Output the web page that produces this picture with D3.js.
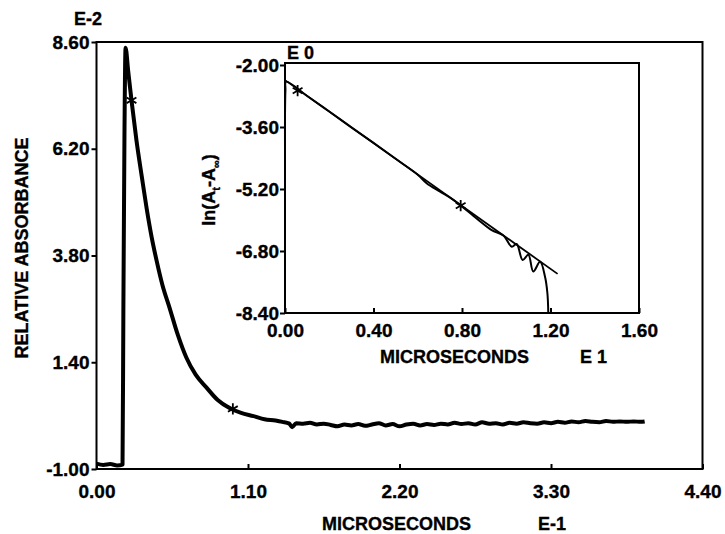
<!DOCTYPE html>
<html>
<head>
<meta charset="utf-8">
<script src="https://cdnjs.cloudflare.com/ajax/libs/d3/7.8.5/d3.min.js"></script>
<style>
  body { margin: 0; background: #fff; }
  svg text { font-family: "Liberation Sans", Arial, sans-serif; font-weight: bold; fill: #000; stroke: #000; stroke-width: 0.35px; }
  .domain { display: none; }
</style>
</head>
<body>
<div id="chart"></div>
<script>
// Main trace: relative absorbance (E-2) vs time (E-1 microseconds)
var mainTime = [0.00, 0.05, 0.10, 0.15, 0.189, 0.195, 0.203, 0.211, 0.23, 0.254, 0.29, 0.33, 0.363, 0.40, 0.436,
  0.48, 0.53, 0.59, 0.653, 0.72, 0.799, 0.88, 0.966, 1.05, 1.14, 1.22, 1.30, 1.35, 1.40, 1.42, 1.45,
  1.50, 1.55, 1.60, 1.65, 1.70, 1.75, 1.80, 1.85, 1.90, 1.95, 2.00, 2.05, 2.10, 2.15, 2.20, 2.25,
  2.30, 2.35, 2.40, 2.45, 2.50, 2.55, 2.60, 2.65, 2.70, 2.75, 2.80, 2.85, 2.90, 2.95, 3.00, 3.05,
  3.10, 3.15, 3.20, 3.25, 3.30, 3.35, 3.40, 3.45, 3.50, 3.55, 3.60, 3.65, 3.70, 3.75, 3.80, 3.85,
  3.90, 3.95, 3.98];
var mainAbs = [-0.88, -0.91, -0.89, -0.92, -0.90, 2.5, 6.5, 8.47, 7.95, 7.29, 6.39, 5.55, 4.88, 4.22, 3.69,
  3.12, 2.63, 2.02, 1.50, 1.12, 0.83, 0.55, 0.37, 0.26, 0.19, 0.12, 0.09, 0.06, 0.02, -0.06, 0.03,
  0.02, 0.04, 0.00, 0.02, -0.01, -0.04, 0.00, -0.02, 0.01, -0.03, 0.00, 0.03, -0.02, 0.01, -0.04, 0.00,
  0.02, -0.02, 0.01, -0.01, 0.02, 0.00, 0.04, 0.01, 0.03, 0.00, 0.05, 0.02, 0.03, 0.00, 0.04, 0.02,
  0.05, 0.03, 0.02, 0.05, 0.03, 0.06, 0.04, 0.07, 0.05, 0.08, 0.06, 0.05, 0.08, 0.06, 0.07, 0.06,
  0.07, 0.06, 0.07];
var mainStarTime = [0.254, 0.99];
var mainStarAbs = [7.29, 0.35];
var mainXTicks = [0.00, 1.10, 2.20, 3.30, 4.40];
var mainYTicks = [-1.00, 1.40, 3.80, 6.20, 8.60];

// Inset: ln(At - Ainf) vs time (E 1)
var insetTime = [0.000, 0.000, 0.002, 0.005, 0.10, 0.20, 0.30, 0.40, 0.50, 0.60, 0.640, 0.701, 0.761,
  0.866, 0.934, 0.987, 1.025, 1.047, 1.074, 1.100, 1.122, 1.153, 1.175, 1.186, 1.190];
var insetLn = [-4.11, -3.33, -2.65, -2.43, -2.80, -3.20, -3.61, -4.01, -4.42, -4.83, -5.05, -5.27, -5.48,
  -5.96, -6.26, -6.40, -6.69, -6.62, -7.03, -6.90, -7.33, -7.08, -7.46, -7.89, -8.40];
var fitTime = [0.00, 1.232];
var fitLn = [-2.39, -7.39];
var insetStarTime = [0.057, 0.794];
var insetStarLn = [-2.66, -5.63];
var insetXTicks = [0.00, 0.40, 0.80, 1.20, 1.60];
var insetYTicks = [-8.40, -6.80, -5.20, -3.60, -2.00];

var svgWidth = 725;
var svgHeight = 534;

// hyphen instead of unicode minus, as on the original plot
var fmt = d => d.toFixed(2);

var svg = d3.select("#chart")
  .append("svg")
  .attr("width", svgWidth)
  .attr("height", svgHeight);

// ---------- main plot ----------
var x = d3.scaleLinear().domain([0, 4.40]).range([96.5, 702.5]);
var y = d3.scaleLinear().domain([-1.00, 8.60]).range([469, 42]);

svg.append("rect")
  .attr("x", x(0)).attr("y", y(8.60))
  .attr("width", x(4.40) - x(0)).attr("height", y(-1) - y(8.60))
  .attr("fill", "none").attr("stroke", "#000").attr("stroke-width", 2);

var xAxis = svg.append("g")
  .attr("transform", `translate(0, ${y(-1)})`)
  .call(d3.axisBottom(x).tickValues(mainXTicks).tickFormat(fmt).tickSize(-5).tickPadding(16));

var yAxis = svg.append("g")
  .attr("transform", `translate(${x(0)}, 0)`)
  .call(d3.axisLeft(y).tickValues(mainYTicks).tickFormat(fmt).tickSize(5).tickPadding(2));

var mainLine = d3.line()
  .curve(d3.curveMonotoneX)
  .x((d, i) => x(mainTime[i]))
  .y((d, i) => y(mainAbs[i]));

svg.append("path")
  .datum(mainAbs)
  .attr("d", mainLine)
  .attr("fill", "none")
  .attr("stroke", "#000")
  .attr("stroke-width", 4)
  .attr("stroke-linejoin", "round");

var star = d3.symbol().type(d3.symbolAsterisk).size(90);

svg.selectAll(".mstar")
  .data(mainStarTime)
  .enter()
  .append("path")
  .attr("d", star)
  .attr("transform", (d, i) => `translate(${x(d)}, ${y(mainStarAbs[i])})`)
  .attr("fill", "none").attr("stroke", "#000").attr("stroke-width", 1.8);

svg.append("text").attr("x", 88).attr("y", 25).attr("text-anchor", "middle")
  .style("font-size", "18px").text("E-2");

svg.append("text")
  .attr("transform", "translate(28, 248) rotate(-90)")
  .attr("text-anchor", "middle")
  .style("font-size", "18px")
  .text("RELATIVE ABSORBANCE");

svg.append("text").attr("x", 322).attr("y", 530).style("font-size", "18px").text("MICROSECONDS");
svg.append("text").attr("x", 538).attr("y", 530).style("font-size", "18px").text("E-1");

// ---------- inset ----------
var ix = d3.scaleLinear().domain([0, 1.60]).range([285, 639]);
var iy = d3.scaleLinear().domain([-8.40, -2.00]).range([313, 65]);

var inset = svg.append("g");

inset.append("rect")
  .attr("x", ix(0)).attr("y", 63)
  .attr("width", ix(1.6) - ix(0)).attr("height", iy(-8.4) - 63)
  .attr("fill", "#fff").attr("stroke", "#000").attr("stroke-width", 2);

inset.append("g")
  .attr("transform", `translate(0, ${iy(-8.4)})`)
  .call(d3.axisBottom(ix).tickValues(insetXTicks).tickFormat(fmt).tickSize(-5).tickPadding(11));

inset.append("g")
  .attr("transform", `translate(${ix(0)}, 0)`)
  .call(d3.axisLeft(iy).tickValues(insetYTicks).tickFormat(fmt).tickSize(5).tickPadding(1));

var fitLine = d3.line()
  .x((d, i) => ix(fitTime[i]))
  .y((d, i) => iy(fitLn[i]));

inset.append("path")
  .datum(fitLn)
  .attr("d", fitLine)
  .attr("fill", "none").attr("stroke", "#000").attr("stroke-width", 1.8);

var insetLine = d3.line()
  .curve(d3.curveCatmullRom)
  .x((d, i) => ix(insetTime[i]))
  .y((d, i) => iy(insetLn[i]));

inset.append("path")
  .datum(insetLn)
  .attr("d", insetLine)
  .attr("fill", "none").attr("stroke", "#000").attr("stroke-width", 2)
  .attr("stroke-linejoin", "round");

inset.selectAll(".istar")
  .data(insetStarTime)
  .enter()
  .append("path")
  .attr("d", star)
  .attr("transform", (d, i) => `translate(${ix(d)}, ${iy(insetStarLn[i])})`)
  .attr("fill", "none").attr("stroke", "#000").attr("stroke-width", 1.8);

inset.append("text").attr("x", 287).attr("y", 59).style("font-size", "18px").text("E 0");

var ylab = inset.append("text")
  .attr("transform", "translate(215, 190) rotate(-90)")
  .attr("text-anchor", "middle")
  .style("font-size", "18px");
ylab.append("tspan").text("ln(A");
ylab.append("tspan").attr("dy", 5).style("font-size", "11px").text("t");
ylab.append("tspan").attr("dy", -5).text("-A");
ylab.append("tspan").attr("dy", 5).style("font-size", "11px").text("\u221E");
ylab.append("tspan").attr("dy", -5).text(")");

inset.append("text").attr("x", 380).attr("y", 363).style("font-size", "18px").text("MICROSECONDS");
inset.append("text").attr("x", 580).attr("y", 363).style("font-size", "18px").text("E 1");

// tick styling for both plots
svg.selectAll(".tick line").attr("stroke", "#000").attr("stroke-width", 2);
svg.selectAll(".tick text")
  .style("font-size", "19px")
  .style("font-weight", "bold")
  .style("font-family", "'Liberation Sans', Arial, sans-serif");
</script>
</body>
</html>
